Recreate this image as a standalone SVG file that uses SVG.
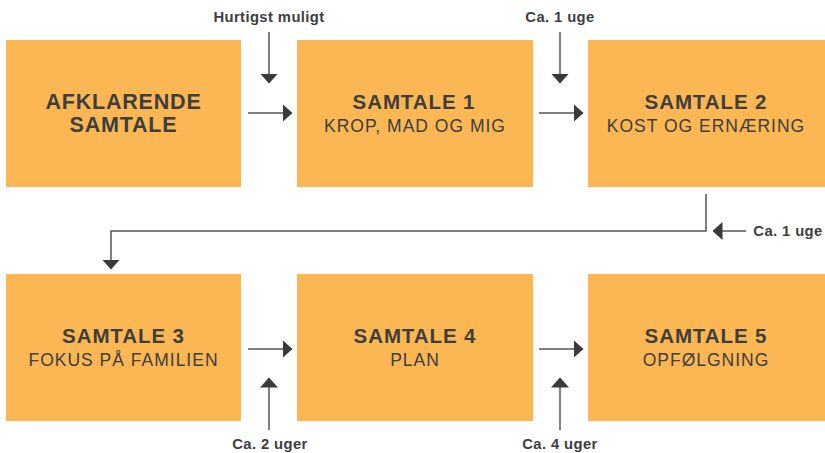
<svg xmlns="http://www.w3.org/2000/svg" width="825" height="453" viewBox="0 0 825 453">
<style>
.box{fill:#FBB753}
.t{font-family:"Liberation Sans",Arial,sans-serif;fill:#3e3e3e;text-anchor:middle}
.h{font-weight:bold;font-size:20.5px;letter-spacing:0.9px}
.hb{font-weight:bold;font-size:21.5px;letter-spacing:0.8px}
.s{font-size:17.5px;letter-spacing:1px}
.lbl{font-family:"Liberation Sans",Arial,sans-serif;fill:#3e3e3e;font-weight:bold;font-size:14.8px;letter-spacing:0.4px;text-anchor:middle}
.c{fill:none;stroke:#555;stroke-width:1.5}
</style>
<defs>
<marker id="ah" viewBox="0 0 10 18" refX="9.5" refY="9" markerWidth="10" markerHeight="18" markerUnits="userSpaceOnUse" orient="auto">
<path d="M0,0 L10,9 L0,18 Z" fill="#3a3a3a"/>
</marker>
</defs>
<g id="n1"><rect class="box" x="6" y="40" width="235" height="147"/>
<text class="t hb" x="123.5" y="109">AFKLARENDE</text>
<text class="t hb" x="123.5" y="132.3">SAMTALE</text></g>
<g id="n2"><rect class="box" x="297" y="40" width="236" height="147"/>
<text class="t h" x="414" y="109.3">SAMTALE 1</text>
<text class="t s" x="415" y="131.7">KROP, MAD OG MIG</text></g>
<g id="n3"><rect class="box" x="588" y="40" width="237" height="147"/>
<text class="t h" x="706" y="109.3">SAMTALE 2</text>
<text class="t s" x="706" y="131.7">KOST OG ERNÆRING</text></g>
<g id="n4"><rect class="box" x="6" y="274" width="235" height="147"/>
<text class="t h" x="123.5" y="343.3">SAMTALE 3</text>
<text class="t s" x="123.5" y="366">FOKUS PÅ FAMILIEN</text></g>
<g id="n5"><rect class="box" x="297" y="274" width="236" height="147"/>
<text class="t h" x="415" y="343.3">SAMTALE 4</text>
<text class="t s" x="415" y="366">PLAN</text></g>
<g id="n6"><rect class="box" x="588" y="274" width="237" height="147"/>
<text class="t h" x="706" y="343.3">SAMTALE 5</text>
<text class="t s" x="706" y="366">OPFØLGNING</text></g>
<g id="connectors">
<path class="c" d="M248,113 H292" marker-end="url(#ah)"/>
<path class="c" d="M539,113 H583" marker-end="url(#ah)"/>
<path class="c" d="M706,194 V231 H111 V269" marker-end="url(#ah)"/>
<path class="c" d="M248,349 H292" marker-end="url(#ah)"/>
<path class="c" d="M539,349 H583" marker-end="url(#ah)"/>
<path class="c" d="M269,32 V83" marker-end="url(#ah)"/>
<path class="c" d="M560,32 V83" marker-end="url(#ah)"/>
<path class="c" d="M746,231 H713" marker-end="url(#ah)"/>
<path class="c" d="M269,430 V378" marker-end="url(#ah)"/>
<path class="c" d="M560,430 V378" marker-end="url(#ah)"/>
</g>
<g id="labels">
<text class="lbl" x="269" y="22">Hurtigst muligt</text>
<text class="lbl" x="560" y="22">Ca. 1 uge</text>
<text class="lbl" x="788" y="236">Ca. 1 uge</text>
<text class="lbl" x="270" y="449">Ca. 2 uger</text>
<text class="lbl" x="560" y="449">Ca. 4 uger</text>
</g>
</svg>
